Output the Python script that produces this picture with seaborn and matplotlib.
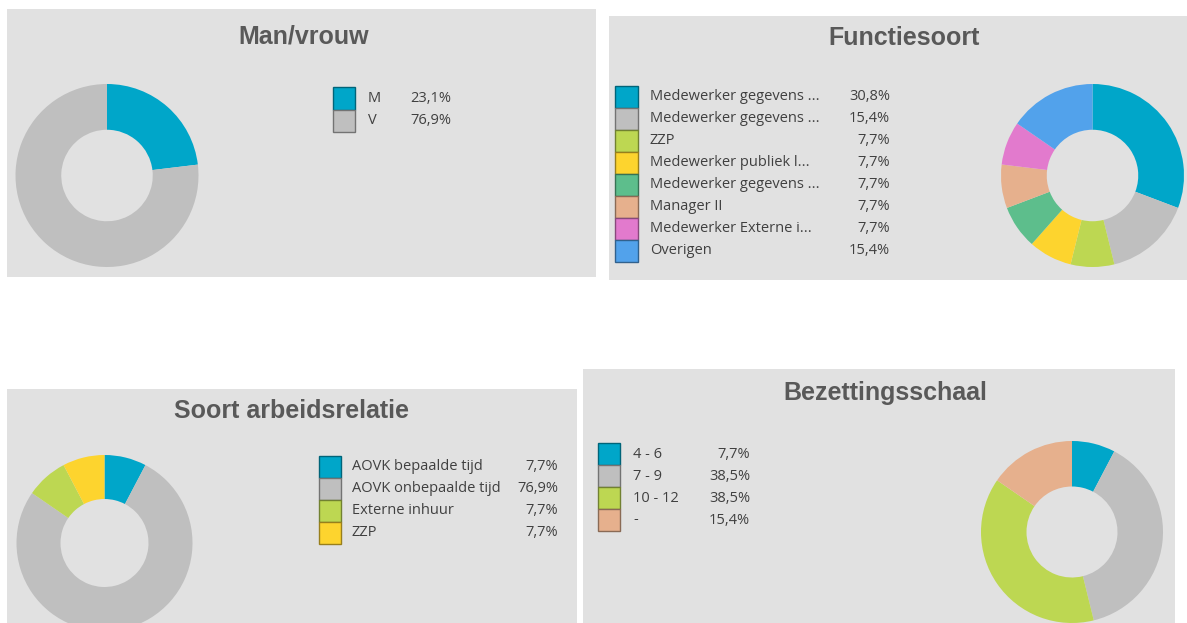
import matplotlib
matplotlib.use("Agg")
import matplotlib.pyplot as plt
import matplotlib.colors as mcolors
from matplotlib.patches import Rectangle
import seaborn as sns

# --- data ---
gender_labels = ["M", "V"]
gender_pct = [23.1, 76.9]

func_labels = ["Medewerker gegevens ...", "Medewerker gegevens ...", "ZZP",
               "Medewerker publiek l...", "Medewerker gegevens ...", "Manager II",
               "Medewerker Externe i...", "Overigen"]
func_pct = [30.8, 15.4, 7.7, 7.7, 7.7, 7.7, 7.7, 15.4]

rel_labels = ["AOVK bepaalde tijd", "AOVK onbepaalde tijd", "Externe inhuur", "ZZP"]
rel_pct = [7.7, 76.9, 7.7, 7.7]

scale_labels = ["4 - 6", "7 - 9", "10 - 12", "-"]
scale_pct = [7.7, 38.5, 38.5, 15.4]

palette = sns.color_palette(["#00A6C9", "#BFBFBF", "#BDD752", "#FDD42E",
                             "#5DBE8C", "#E6B08D", "#E27ACD", "#52A2EB"])
scale_colors = [palette[0], palette[1], palette[2], palette[5]]

sns.set_theme(style="white")
plt.rcParams["font.family"] = ["Open Sans", "DejaVu Sans"]

W, H = 1187, 623
BG = "#E1E1E1"
fig = plt.figure(figsize=(W / 100, H / 100), dpi=100, facecolor="white")

# full-figure axes in pixel coordinates for panels, titles and legends
base = fig.add_axes([0, 0, 1, 1])
base.set_xlim(0, W)
base.set_ylim(H, 0)
base.axis("off")


def fmt(v):
    return f"{v:.1f}%".replace(".", ",")


def panel(x0, y0, x1, y1, title, tx, ty):
    base.add_patch(Rectangle((x0, y0), x1 - x0, y1 - y0, facecolor=BG, edgecolor="none"))
    base.text(tx, ty, title, ha="center", va="center", fontsize=18, fontweight="bold",
              color="#595959", family="Liberation Sans")


def donut(cx, cy, r, values, colors):
    ax = fig.add_axes([(cx - r) / W, 1 - (cy + r) / H, 2 * r / W, 2 * r / H])
    ax.pie(values, colors=colors, startangle=90, counterclock=False, radius=1,
           wedgeprops=dict(width=0.5, edgecolor="none"))
    ax.set_xlim(-1, 1)
    ax.set_ylim(-1, 1)
    ax.set_aspect("equal")
    ax.axis("off")


def legend(sx0, sx1, y0, rowh, lx, px, labels, values, colors):
    for i, (lab, v, c) in enumerate(zip(labels, values, colors)):
        y = y0 + i * rowh
        edge = [ch * 0.6 for ch in mcolors.to_rgb(c)]
        base.add_patch(Rectangle((sx0, y), sx1 - sx0, rowh, facecolor=c,
                                 edgecolor=edge, linewidth=1))
        base.text(lx, y + rowh / 2, lab, ha="left", va="center", fontsize=10.5, color="#404040")
        base.text(px, y + rowh / 2, fmt(v), ha="right", va="center", fontsize=10.5, color="#404040")


# Man/vrouw
panel(7, 9, 596, 277, "Man/vrouw", 304, 37)
donut(107, 175.5, 91.5, gender_pct, palette[:2])
legend(333, 355, 87, 22.5, 368, 451, gender_labels, gender_pct, palette[:2])

# Functiesoort
panel(609, 16, 1187, 280, "Functiesoort", 904, 38)
donut(1092.5, 175.5, 91.5, func_pct, palette)
legend(615, 638, 86, 22, 650, 890, func_labels, func_pct, palette)

# Soort arbeidsrelatie
panel(7, 389, 577, 623, "Soort arbeidsrelatie", 292, 411)
donut(104.5, 543, 88, rel_pct, palette[:4])
legend(319, 341, 456, 22, 352, 558, rel_labels, rel_pct, palette[:4])

# Bezettingsschaal
panel(583, 369, 1175, 623, "Bezettingsschaal", 885, 393)
donut(1072, 532, 91, scale_pct, scale_colors)
legend(598, 620, 443, 22, 633, 750, scale_labels, scale_pct, scale_colors)

plt.savefig("out.png", dpi=100, facecolor="white")
